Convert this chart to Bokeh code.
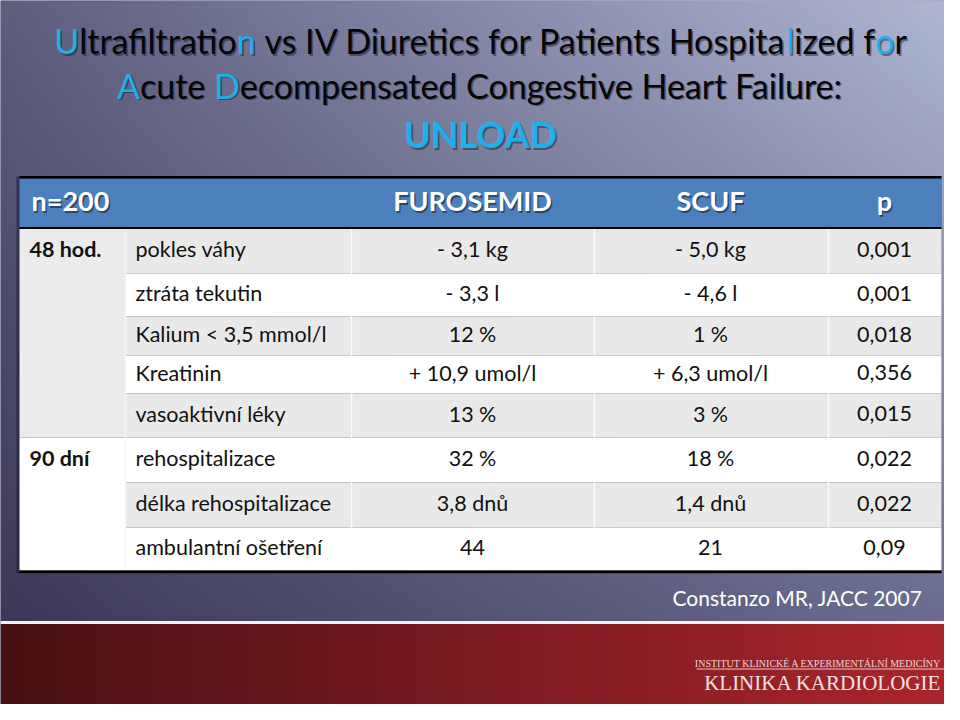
import numpy as np
from bokeh.plotting import figure
from bokeh.models import ColumnDataSource, Range1d, CustomJSTransform
from bokeh.transform import transform
from bokeh.core.properties import value
from bokeh.embed import file_html
from bokeh.resources import INLINE

# ---------------- data ----------------
header = ["n=200", "FUROSEMID", "SCUF", "p"]
groups = ["48 hod.", "90 dní"]
group_sizes = [5, 3]
parameters = ["pokles váhy", "ztráta tekutin", "Kalium < 3,5 mmol/l", "Kreatinin",
              "vasoaktivní léky", "rehospitalizace", "délka rehospitalizace",
              "ambulantní ošetření"]
furosemid = ["- 3,1 kg", "- 3,3 l", "12 %", "+ 10,9 umol/l", "13 %", "32 %", "3,8 dnů", "44"]
scuf = ["- 5,0 kg", "- 4,6 l", "1 %", "+ 6,3 umol/l", "3 %", "18 %", "1,4 dnů", "21"]
p_values = ["0,001", "0,001", "0,018", "0,356", "0,015", "0,022", "0,022", "0,09"]
title_line1 = ["U", "ltrafiltratio", "n ", "vs IV Diuretics for Patients Hospita", "l", "ized f", "o", "r"]
title_line2 = ["A", "cute ", "D", "ecompensated Congestive Heart Failure:"]
title_line3 = "UNLOAD"
citation = "Constanzo MR, JACC 2007"
logo_small = "INSTITUT KLINICKÉ A EXPERIMENTÁLNÍ MEDICÍNY"
logo_big = "KLINIKA KARDIOLOGIE"

# ---------------- layout / style ----------------
FONT_NAME = "Lato"
FONT = value(FONT_NAME)
CYAN = "#1fb0ec"
DARK = "#050505"
TITLE_SIZE = 34
line1_c = [CYAN, DARK, CYAN, DARK, CYAN, DARK, CYAN, DARK]
line2_c = [CYAN, DARK, CYAN, DARK]

col_edges = [19, 125, 351, 594, 828, 941]
header_top, header_bot = 178, 227
row_edges = [228, 273, 316, 355, 393, 437, 482, 527, 570]
GREY = "#e9e9e9"
W, H = 944, 704

p = figure(width=W, height=H, output_backend="svg", toolbar_location=None,
           x_range=Range1d(0, W), y_range=Range1d(H, 0), min_border=0)
p.axis.visible = False
p.grid.visible = False
p.outline_line_color = None
p.background_fill_color = "#5a587a"
p.border_fill_color = "#5a587a"

# ---------------- background gradient ----------------
cell = 8
xs = np.arange(0, 960, cell)
ys = np.arange(0, 620, cell)
TL = np.array([94, 94, 126]); TR = np.array([176, 184, 212])
BL = np.array([60, 56, 88]);  BR = np.array([108, 110, 144])
L, R, T, B, C = [], [], [], [], []
for yy in ys:
    v = (yy + cell / 2) / 620
    for xx in xs:
        u = (xx + cell / 2) / 960
        col = (TL * (1 - u) * (1 - v) + TR * u * (1 - v) + BL * (1 - u) * v + BR * u * v)
        L.append(xx); R.append(xx + cell + 1); T.append(yy); B.append(min(yy + cell + 1, 621))
        C.append("#%02x%02x%02x" % tuple(int(c) for c in col))
p.quad(left=L, right=R, top=T, bottom=B, fill_color=C, line_color=None)

# white separator and red band
p.quad(left=0, right=960, top=620.5, bottom=623.5, fill_color="#f4f0f2", line_color=None)
L2, R2, C2 = [], [], []
a = np.array([72, 16, 20]); b = np.array([172, 38, 46])
for xx in np.arange(0, 960, 4):
    u = (xx + 2) / 960
    col = a * (1 - u) + b * u
    L2.append(xx); R2.append(xx + 5); C2.append("#%02x%02x%02x" % tuple(int(c) for c in col))
p.quad(left=L2, right=R2, top=623.5, bottom=720, fill_color=C2, line_color=None)

# ---------------- title (segments laid out by measured text widths) ----------------
def seg_text(texts, colors, center_x, y, size_px, style="normal"):
    src = ColumnDataSource(dict(x=[center_x] * len(texts), y=[y] * len(texts), t=texts, c=colors))
    layout = CustomJSTransform(args=dict(src=src, font=f"{style} {size_px}px {FONT_NAME}"), v_func="""
        const texts = src.data['t'];
        const ctx = document.createElement('canvas').getContext('2d');
        ctx.font = font;
        const w = texts.map(t => ctx.measureText(t).width);
        const total = w.reduce((s, v) => s + v, 0);
        const out = new Float64Array(xs.length);
        let acc = 0;
        for (let i = 0; i < xs.length; i++) { out[i] = xs[i] - total / 2 + acc; acc += w[i]; }
        return out;
    """)
    p.text(x=transform("x", layout), y="y", text="t", source=src, x_offset=1.5, y_offset=1.5,
           text_color="#101020", text_alpha=0.45, text_font=FONT,
           text_font_size=f"{size_px}px", text_font_style=style, text_baseline="middle")
    p.text(x=transform("x", layout), y="y", text="t", source=src, text_color="c", text_font=FONT,
           text_font_size=f"{size_px}px", text_font_style=style, text_baseline="middle")

seg_text(title_line1, line1_c, 480, 40, TITLE_SIZE)
seg_text(title_line2, line2_c, 479, 84.5, TITLE_SIZE)
p.text(x=[480], y=[133.5], text=[title_line3], x_offset=1.5, y_offset=1.5, text_color="#101020",
       text_alpha=0.45, text_font=FONT, text_font_size="36px", text_font_style="bold",
       text_align="center", text_baseline="middle")
p.text(x=[480], y=[133.5], text=[title_line3], text_color=CYAN, text_font=FONT,
       text_font_size="36px", text_font_style="bold", text_align="center",
       text_baseline="middle")

# ---------------- table ----------------
n_rows = len(parameters)
p.quad(left=col_edges[0] - 3, right=col_edges[-1], top=header_top - 2, bottom=row_edges[-1] + 3,
       fill_color="#1a1830", fill_alpha=0.55, line_color=None)
p.quad(left=col_edges[0], right=col_edges[-1], top=header_top, bottom=header_bot,
       fill_color="#4c80bd", line_color=None)
rl, rr, rt, rb, rc = [], [], [], [], []
for i in range(n_rows):
    shade = GREY if i % 2 == 0 else "#ffffff"
    rl.append(col_edges[1]); rr.append(col_edges[-1]); rt.append(row_edges[i]); rb.append(row_edges[i + 1]); rc.append(shade)
start = 0
for gi, gs in enumerate(group_sizes):
    rl.append(col_edges[0]); rr.append(col_edges[1]); rt.append(row_edges[start]); rb.append(row_edges[start + gs])
    rc.append("#ebebeb" if gi == 0 else "#ffffff")
    start += gs
p.quad(left=rl, right=rr, top=rt, bottom=rb, fill_color=rc, line_color=None)
for ce in col_edges[1:-1]:
    p.segment(x0=[ce], y0=[row_edges[0]], x1=[ce], y1=[row_edges[-1]], line_color="#ffffff",
              line_width=1.5, line_alpha=0.8)
p.quad(left=[col_edges[0]] * 3, right=[col_edges[-1]] * 3,
       top=[header_top - 2.5, header_bot - 0.5, row_edges[-1]],
       bottom=[header_top, header_bot + 1.5, row_edges[-1] + 2.5],
       fill_color="#000000", line_color=None)

# header text
hx = [31, 472, 710, 884]
ha = ["left", "center", "center", "center"]
hy = 200
hsrc = ColumnDataSource(dict(x=hx, y=[hy] * 4, t=header, a=ha))
p.text(x="x", y="y", text="t", source=hsrc, text_align="a", x_offset=1.5, y_offset=1.5,
       text_color="#1a2030", text_alpha=0.6, text_font=FONT, text_font_size="27px",
       text_font_style="bold", text_baseline="middle")
p.text(x="x", y="y", text="t", source=hsrc, text_align="a", text_color="#ffffff",
       text_font=FONT, text_font_size="27px", text_font_style="bold", text_baseline="middle")

# body text
centers = [(row_edges[i] + row_edges[i + 1]) / 2 - 2 for i in range(n_rows)]
tsize = "21.5px"
p.text(x=[135] * n_rows, y=centers, text=parameters, text_color="#111111", text_font=FONT,
       text_font_size=tsize, text_baseline="middle", text_align="left")
for xc, vals in zip([472, 710, 884], [furosemid, scuf, p_values]):
    p.text(x=[xc] * n_rows, y=centers, text=vals, text_color="#111111", text_font=FONT,
           text_font_size=tsize, text_baseline="middle", text_align="center")
gy, start = [], 0
for gs in group_sizes:
    gy.append(centers[start]); start += gs
p.text(x=[29] * len(groups), y=gy, text=groups, text_color="#111111", text_font=FONT,
       text_font_size=tsize, text_font_style="bold", text_baseline="middle")

# citation
p.text(x=[922], y=[597], text=[citation], text_color="#ffffff", text_font=FONT,
       text_font_size="21px", text_align="right", text_baseline="middle")

# logo
p.text(x=[941], y=[663], text=[logo_small], text_color="#ecd6d8", text_font=value("Liberation Serif"),
       text_font_size="10px", text_align="right", text_baseline="middle")
p.segment(x0=[696], y0=[668.5], x1=[944], y1=[668.5], line_color="#e8c8cc", line_width=1)
p.text(x=[941], y=[682], text=[logo_big], text_color="#f2e2e4", text_font=value("Liberation Serif"),
       text_font_size="21px", text_align="right", text_baseline="middle")

open("out.html", "w").write(file_html(p, INLINE))
